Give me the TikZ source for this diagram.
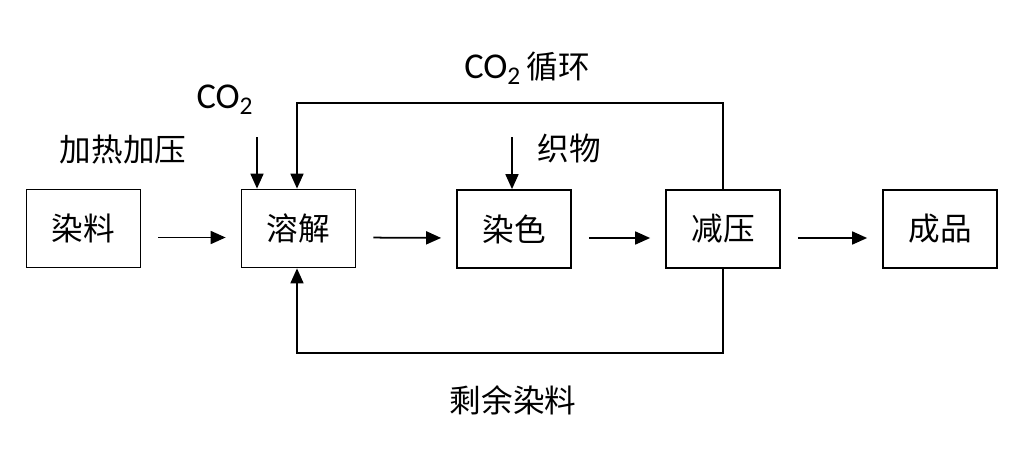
\documentclass[tikz,border=0pt]{standalone}
\usepackage{fontspec}
\setmainfont{Noto Sans CJK SC}
\newfontfamily\lat[Scale=1.15]{Carlito}
\usetikzlibrary{arrows.meta}
\tikzset{
    box/.style={draw, line width=1pt, minimum width=2.28cm, minimum height=1.56cm, inner sep=0pt},
    arr/.style={line width=1pt, -{Triangle[length=0.3cm,width=0.26cm]}},
    flow/.style={arr, shorten <=0.34cm, shorten >=0.3cm},
    lbl/.style={inner sep=0pt}
}
\begin{document}
\begin{tikzpicture}[x=0.02cm, y=-0.02cm, font=\fontsize{18}{20}\selectfont]
    \useasboundingbox (0,0) rectangle (1024,450);

    \node[box] (dye) at (83.5,228.5) {染料};
    \node[box] (dis) at (298.5,228.5) {溶解};
    \node[box] (col) at (514,229) {染色};
    \node[box] (dec) at (723,229) {减压};
    \node[box] (prod) at (940,229) {成品};

    \node[lbl] (heat) at (123,150) {加热加压};
    \node[lbl] (co2) at (225,100) {\lat CO\textsubscript{2}};
    \node[lbl] (fab) at (569,148) {织物};
    \node[lbl] (cyc) at (527,68) {{\lat CO\textsubscript{2}}\,循环};
    \node[lbl] (rest) at (513,400) {剩余染料};

    \draw[flow] ([yshift=-0.18cm]dye.east) -- ([yshift=-0.18cm]dis.west);
    \draw[flow] ([yshift=-0.18cm]dis.east) -- ([yshift=-0.18cm]col.west);
    \draw[flow] ([yshift=-0.18cm]col.east) -- ([yshift=-0.18cm]dec.west);
    \draw[flow] ([yshift=-0.18cm]dec.east) -- ([yshift=-0.18cm]prod.west);

    \coordinate (co2in) at (257,137);
    \coordinate (fabin) at (512,137);
    \draw[arr] (co2in) -- (co2in |- dis.north);
    \draw[arr] (fabin) -- (fabin |- col.north);

    \coordinate (topl) at (297,103);
    \coordinate (botl) at (297,353);
    \draw[arr] (dec.north) -- (dec.north |- topl) -- (topl) -- (topl |- dis.north);
    \draw[arr] (dec.south) -- (dec.south |- botl) -- (botl) -- (botl |- dis.south);
\end{tikzpicture}
\end{document}
